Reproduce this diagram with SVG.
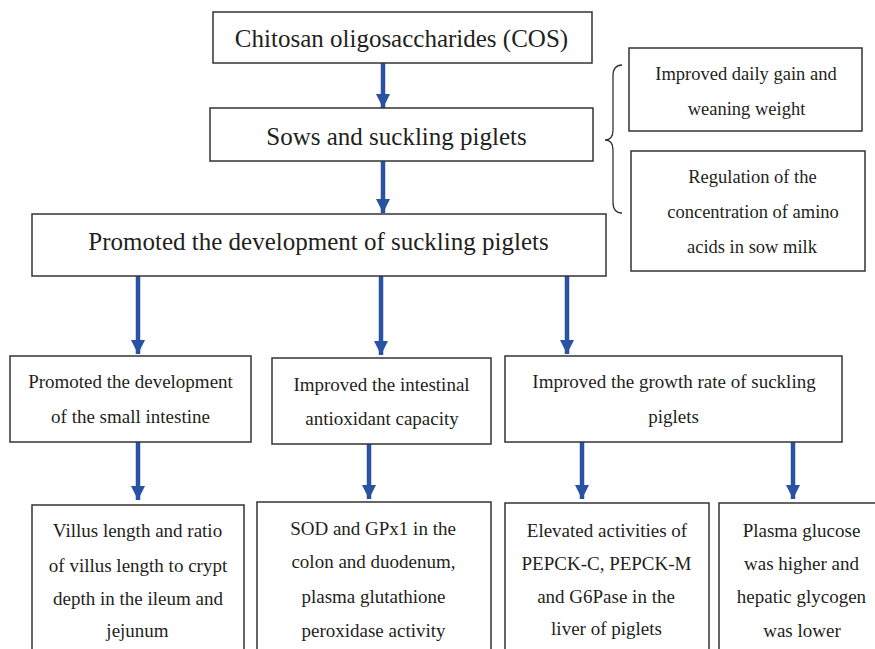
<svg xmlns="http://www.w3.org/2000/svg" width="875" height="649" viewBox="0 0 875 649">
  <style>
    .box { fill: #ffffff; stroke: #333333; stroke-width: 1.5; }
    .arrow { stroke: #2a52a2; stroke-width: 4.5; fill: none; }
    .head { fill: #2a52a2; }
    .brace { fill: none; stroke: #333333; stroke-width: 1.3; }
  </style>
  <defs>
    <marker id="ah" viewBox="0 0 14 14" refX="14" refY="7" markerWidth="14" markerHeight="14" markerUnits="userSpaceOnUse" orient="auto">
      <path class="head" d="M0,0 L14,7 L0,14 Z"/>
    </marker>
  </defs>

  <rect width="875" height="649" fill="#ffffff"/>

  <!-- connectors -->
  <g id="connectors">
    <line class="arrow" x1="383" y1="63" x2="383" y2="108" marker-end="url(#ah)"/>
    <line class="arrow" x1="383" y1="161" x2="383" y2="213" marker-end="url(#ah)"/>
    <line class="arrow" x1="138" y1="276" x2="138" y2="354" marker-end="url(#ah)"/>
    <line class="arrow" x1="381" y1="276" x2="381" y2="355" marker-end="url(#ah)"/>
    <line class="arrow" x1="567" y1="276" x2="567" y2="354" marker-end="url(#ah)"/>
    <line class="arrow" x1="138" y1="442" x2="138" y2="500" marker-end="url(#ah)"/>
    <line class="arrow" x1="369" y1="444" x2="369" y2="499" marker-end="url(#ah)"/>
    <line class="arrow" x1="582" y1="442" x2="582" y2="499" marker-end="url(#ah)"/>
    <line class="arrow" x1="793" y1="442" x2="793" y2="499" marker-end="url(#ah)"/>
    <path id="brace" class="brace" d="M622,65 Q613,65 613,76 L613,130 Q613,140 605,140 Q613,140 613,150 L613,202 Q613,213 622,213"/>
  </g>

  <!-- nodes: serif labels, centred in each box -->
  <g font-family="Liberation Serif, serif" fill="#231f20" text-anchor="middle">
  <g id="cos" font-size="25">
    <rect class="box" x="213" y="12" width="379" height="51"/>
    <text x="401.5" y="47">Chitosan oligosaccharides (COS)</text>
  </g>

  <g id="sows" font-size="25">
    <rect class="box" x="210" y="108" width="383" height="53"/>
    <text x="396.5" y="145">Sows and suckling piglets</text>
  </g>

  <g id="development" font-size="25">
    <rect class="box" x="32" y="214" width="574" height="62"/>
    <text x="318.5" y="250">Promoted the development of suckling piglets</text>
  </g>

  <g id="daily-gain" font-size="18.5">
    <rect class="box" x="629" y="48" width="233" height="83"/>
    <text x="746" y="80">Improved daily gain and</text>
    <text x="746.5" y="115">weaning weight</text>
  </g>

  <g id="amino-acids" font-size="18.5">
    <rect class="box" x="631" y="151" width="234" height="120"/>
    <text x="752.5" y="183">Regulation of the</text>
    <text x="753" y="218">concentration of amino</text>
    <text x="752" y="253">acids in sow milk</text>
  </g>

  <g id="small-intestine" font-size="19">
    <rect class="box" x="10" y="356" width="241" height="86"/>
    <text x="130.5" y="388">Promoted the development</text>
    <text x="130.5" y="423">of the small intestine</text>
  </g>

  <g id="antioxidant" font-size="19">
    <rect class="box" x="272" y="358" width="219" height="86"/>
    <text x="381.5" y="391">Improved the intestinal</text>
    <text x="382" y="425">antioxidant capacity</text>
  </g>

  <g id="growth-rate" font-size="19">
    <rect class="box" x="505" y="356" width="337" height="86"/>
    <text x="674" y="388">Improved the growth rate of suckling</text>
    <text x="673.5" y="423">piglets</text>
  </g>

  <g id="villus" font-size="19">
    <rect class="box" x="32" y="505" width="212" height="160"/>
    <text x="137.5" y="537">Villus length and ratio</text>
    <text x="138" y="572">of villus length to crypt</text>
    <text x="138" y="605">depth in the ileum and</text>
    <text x="137.5" y="637">jejunum</text>
  </g>

  <g id="sod-gpx1" font-size="19">
    <rect class="box" x="257" y="502" width="234" height="160"/>
    <text x="373" y="535">SOD and GPx1 in the</text>
    <text x="373.5" y="568">colon and duodenum,</text>
    <text x="373.5" y="603">plasma glutathione</text>
    <text x="373.5" y="637">peroxidase activity</text>
  </g>

  <g id="pepck" font-size="19">
    <rect class="box" x="505" y="503" width="204" height="160"/>
    <text x="607" y="537">Elevated activities of</text>
    <text x="606.5" y="570">PEPCK-C, PEPCK-M</text>
    <text x="606" y="603">and G6Pase in the</text>
    <text x="606.5" y="635">liver of piglets</text>
  </g>

  <g id="glucose" font-size="19">
    <rect class="box" x="719" y="503" width="170" height="160"/>
    <text x="801.5" y="537">Plasma glucose</text>
    <text x="801.5" y="570">was higher and</text>
    <text x="801.5" y="603">hepatic glycogen</text>
    <text x="802" y="637">was lower</text>
  </g>
  </g>
</svg>
